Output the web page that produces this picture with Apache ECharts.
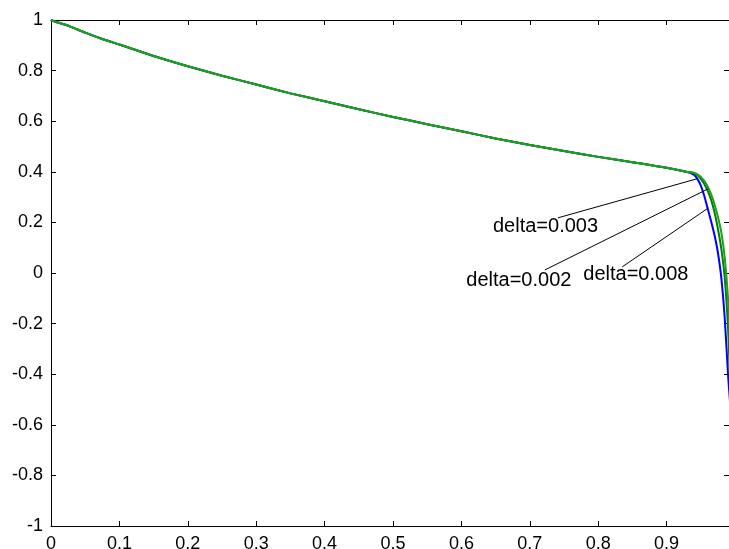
<!DOCTYPE html>
<html><head><meta charset="utf-8">
<script src="https://cdn.jsdelivr.net/npm/echarts@6/dist/echarts.min.js"></script>
<style>html,body{margin:0;padding:0;background:#fff}#c{width:729px;height:549px}</style>
</head><body><div id="c"></div>
<script>
// shared part of the three curves
const baseX = [0, 0.01, 0.02, 0.03, 0.05, 0.075, 0.1, 0.15, 0.2, 0.25, 0.3, 0.35, 0.4, 0.45, 0.5, 0.55, 0.6, 0.65, 0.7, 0.75, 0.8, 0.85, 0.88, 0.9, 0.92, 0.93];
const baseY = [1.0, 0.99, 0.982, 0.972, 0.95, 0.925, 0.903, 0.858, 0.817, 0.78, 0.745, 0.71, 0.679, 0.647, 0.617, 0.588, 0.56, 0.532, 0.506, 0.482, 0.459, 0.438, 0.425, 0.416, 0.405, 0.399];
// steep drop near x = 1
const tailX = [0.935, 0.94, 0.945, 0.95, 0.955, 0.96, 0.965, 0.97, 0.975, 0.98, 0.985, 0.99, 0.993];
const tailY003 = [0.395, 0.388, 0.372, 0.345, 0.305, 0.255, 0.205, 0.15, 0.08, -0.02, -0.18, -0.41, -0.52];
const tailY002 = [0.398, 0.394, 0.386, 0.372, 0.352, 0.325, 0.29, 0.24, 0.175, 0.095, -0.02, -0.226, -0.45];
const tailY008 = [0.398, 0.396, 0.39, 0.38, 0.364, 0.342, 0.312, 0.272, 0.222, 0.16, 0.06, -0.11, -0.3];
const seriesNames = ['delta=0.003', 'delta=0.002', 'delta=0.008'];
const seriesColors = ['#0000ff', '#007f00', '#1f9f1f'];

// annotations
const annotText = ['delta=0.003', 'delta=0.002', 'delta=0.008'];
const annotTextPos = [[0.723, 0.182], [0.684, -0.028], [0.855, -0.004]];
const annotLineStart = [[0.741, 0.218], [0.722, 0.012], [0.835, 0.024]];
const annotLineEnd = [[0.944, 0.372], [0.961, 0.333], [0.961, 0.257]];

const xMin = 0, xMax = 0.9912, xStep = 0.1;
const yMin = -1, yMax = 1, yStep = 0.2;

function pairs(xs, ys) { return xs.map((x, i) => [x, ys[i]]); }
const tails = [tailY003, tailY002, tailY008];

const font = 'Liberation Sans, Arial, sans-serif';
const fmtX = v => (Math.abs(v * 10 - Math.round(v * 10)) < 1e-6) ? String(+v.toFixed(1)) : '';
const fmtY = v => String(+v.toFixed(1));

const lineSeries = tails.map((t, i) => ({
  name: seriesNames[i], type: 'line', showSymbol: false, symbol: 'none', smooth: 0.2,
  data: pairs(baseX.concat(tailX), baseY.concat(t)),
  lineStyle: { color: seriesColors[i], width: 2 }, itemStyle: { color: seriesColors[i] },
  clip: true, z: 2 + i
}));

const annotSeries = {
  type: 'scatter', symbolSize: 0, z: 10, silent: true,
  data: annotText.map((t, i) => ({ name: t, value: annotTextPos[i] })),
  label: { show: true, position: 'inside', formatter: p => p.name, color: '#000', opacity: 1, fontSize: 20, fontFamily: font },
  markLine: {
    silent: true, symbol: ['none', 'none'], animation: false,
    label: { show: false },
    lineStyle: { color: '#000', width: 1, type: 'solid', opacity: 1 },
    data: annotLineStart.map((s, i) => [{ coord: s }, { coord: annotLineEnd[i] }])
  }
};

const axisLineStyle = { show: true, onZero: false, lineStyle: { color: '#000', width: 1 } };
const tickStyle = { show: true, inside: true, length: 5, lineStyle: { color: '#000' } };
const option = {
  animation: false,
  grid: { left: 51, right: 0, top: 20, bottom: 23, outerBoundsMode: 'none', containLabel: false },
  xAxis: [
    { type: 'value', min: xMin, max: xMax, interval: xStep, position: 'bottom',
      axisLine: axisLineStyle, axisTick: tickStyle, splitLine: { show: false },
      axisLabel: { formatter: fmtX, color: '#000', fontSize: 18, fontFamily: font, margin: 9, showMaxLabel: false } },
    { type: 'value', min: xMin, max: xMax, interval: xStep, position: 'top',
      axisLine: axisLineStyle, axisTick: tickStyle, splitLine: { show: false }, axisLabel: { show: false } }
  ],
  yAxis: [
    { type: 'value', min: yMin, max: yMax, interval: yStep, position: 'left',
      axisLine: axisLineStyle, axisTick: tickStyle, splitLine: { show: false },
      axisLabel: { formatter: fmtY, color: '#000', fontSize: 18, fontFamily: font, margin: 8 } },
    { type: 'value', min: yMin, max: yMax, interval: yStep, position: 'right',
      axisLine: { show: false, onZero: false }, axisTick: tickStyle, splitLine: { show: false }, axisLabel: { show: false } }
  ],
  series: lineSeries.concat([annotSeries])
};
const chart = echarts.init(document.getElementById('c'), null, { renderer: 'canvas' });
chart.setOption(option);
</script></body></html>
